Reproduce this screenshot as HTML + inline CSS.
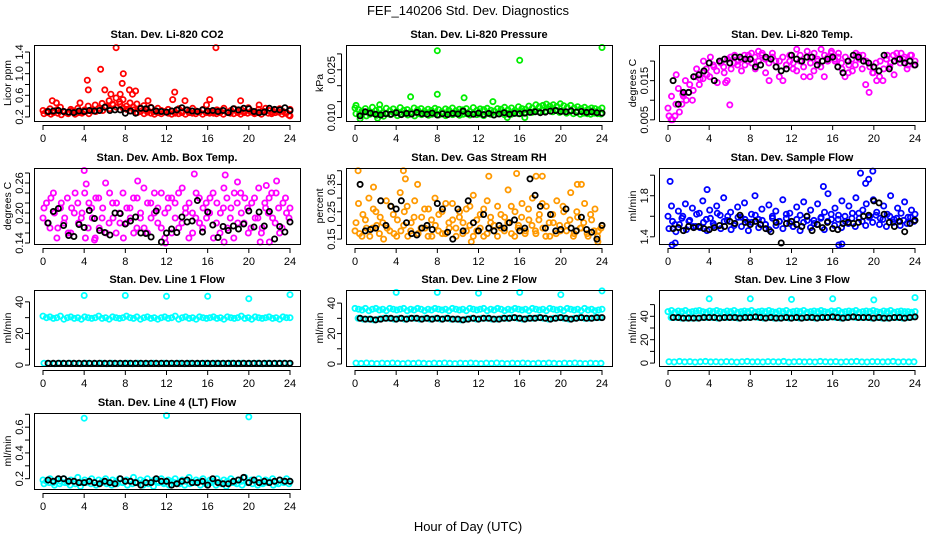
<!DOCTYPE html>
<html><head><meta charset="utf-8"><style>
html,body{margin:0;padding:0;background:#fff;}
svg{display:block;font-family:"Liberation Sans",sans-serif;}
</style></head><body>
<svg id="chart" width="936" height="540" viewBox="0 0 936 540">
<text x="468" y="15" font-size="13" text-anchor="middle">FEF_140206  Std. Dev. Diagnostics</text>
<text x="468" y="531" font-size="13" text-anchor="middle">Hour of Day (UTC)</text>
</svg>
<script>
// ---- data (colored = all samples, black = half-hour summaries) ----
const hourTicks = [0,4,8,12,16,20,24];

const co2A = [0.32,0.30,0.35,0.28,0.33,0.38,0.30,0.27,0.34,0.31,0.36,0.29,0.33,0.40,0.31,0.42,0.36,0.45,0.38,0.50,0.44,0.55,0.48,0.52,0.40,0.46,0.38,0.44,0.35,0.41,0.33,0.38,0.30,0.36,0.32,0.29,0.34,0.31,0.27,0.35,0.30,0.33,0.28,0.36,0.31,0.29,0.34,0.42,0.30,0.27,0.33,0.31,0.36,0.29,0.32,0.35,0.28,0.33,0.30,0.37,0.31,0.28,0.34,0.30,0.36,0.32,0.29,0.33,0.35,0.30,0.28,0.34];
const co2B = [0.26,0.28,0.25,0.30,0.27,0.24,0.29,0.26,0.31,0.25,0.28,0.27,0.30,0.26,0.33,0.30,0.36,0.32,0.40,0.35,0.42,0.38,0.44,0.36,0.34,0.31,0.33,0.28,0.30,0.26,0.29,0.27,0.25,0.28,0.26,0.30,0.27,0.25,0.29,0.26,0.28,0.25,0.30,0.27,0.26,0.29,0.25,0.28,0.27,0.30,0.26,0.28,0.25,0.29,0.27,0.26,0.30,0.25,0.28,0.27,0.29,0.26,0.28,0.25,0.30,0.27,0.26,0.28,0.29,0.25,0.27,0.23];
const co2OutX = [7.1,16.8,5.6,4.3,7.8,7.7,4.4,6.0,8.4,9.0,12.8,6.6,7.5,0.9,16.2,13.8,19.2,10.2,12.6,8.7,3.6,1.3,21.0,24.0];
const co2OutY = [1.48,1.48,1.08,0.88,1.00,0.82,0.70,0.70,0.70,0.68,0.66,0.62,0.62,0.50,0.52,0.50,0.50,0.50,0.52,0.62,0.46,0.46,0.42,0.22];
const co2K = [0.30,0.31,0.32,0.30,0.29,0.28,0.31,0.30,0.32,0.31,0.32,0.38,0.32,0.33,0.33,0.27,0.31,0.27,0.36,0.35,0.37,0.31,0.30,0.29,0.31,0.33,0.37,0.33,0.31,0.30,0.33,0.31,0.32,0.30,0.32,0.28,0.35,0.33,0.36,0.35,0.30,0.28,0.29,0.36,0.34,0.33,0.37,0.32];

const presA = [0.0130,0.0125,0.0120,0.0128,0.0118,0.0132,0.0122,0.0126,0.0115,0.0129,0.0121,0.0127,0.0119,0.0131,0.0123,0.0125,0.0117,0.0130,0.0124,0.0128,0.0120,0.0126,0.0122,0.0129,0.0125,0.0118,0.0127,0.0123,0.0130,0.0121,0.0126,0.0124,0.0128,0.0119,0.0131,0.0122,0.0127,0.0125,0.0129,0.0123,0.0120,0.0128,0.0126,0.0132,0.0124,0.0130,0.0122,0.0134,0.0128,0.0126,0.0136,0.0130,0.0140,0.0134,0.0138,0.0142,0.0136,0.0140,0.0135,0.0143,0.0137,0.0132,0.0138,0.0130,0.0134,0.0128,0.0132,0.0126,0.0130,0.0128,0.0124,0.0130];
const presB = [0.0112,0.0108,0.0115,0.0105,0.0110,0.0113,0.0107,0.0111,0.0104,0.0112,0.0109,0.0114,0.0106,0.0110,0.0113,0.0108,0.0111,0.0105,0.0112,0.0109,0.0113,0.0107,0.0110,0.0114,0.0108,0.0111,0.0106,0.0112,0.0109,0.0113,0.0107,0.0110,0.0112,0.0108,0.0114,0.0109,0.0111,0.0106,0.0113,0.0110,0.0108,0.0112,0.0115,0.0109,0.0113,0.0110,0.0116,0.0112,0.0118,0.0114,0.0120,0.0116,0.0122,0.0118,0.0124,0.0120,0.0126,0.0118,0.0122,0.0116,0.0120,0.0114,0.0118,0.0112,0.0116,0.0110,0.0114,0.0112,0.0110,0.0114,0.0112,0.0111];
const presOutX = [8.0,16.0,24.0,8.0,5.4,10.6,2.4,13.4,0.1,2.2,0.5,16.5,14.8];
const presOutY = [0.0310,0.0280,0.0320,0.0173,0.0165,0.0162,0.0140,0.0150,0.0138,0.0098,0.0096,0.0100,0.0100];
const presK = [0.0105,0.0118,0.0114,0.0110,0.0108,0.0112,0.0110,0.0115,0.0109,0.0113,0.0111,0.0116,0.0112,0.0110,0.0114,0.0108,0.0112,0.0109,0.0113,0.0111,0.0120,0.0112,0.0110,0.0114,0.0109,0.0113,0.0108,0.0111,0.0115,0.0110,0.0113,0.0112,0.0114,0.0116,0.0118,0.0115,0.0117,0.0120,0.0122,0.0119,0.0118,0.0121,0.0117,0.0119,0.0116,0.0118,0.0115,0.0114];

const tempA = [0.0080,0.0110,0.0060,0.0130,0.0090,0.0150,0.0120,0.0100,0.0160,0.0140,0.0170,0.0180,0.0160,0.0190,0.0175,0.0200,0.0185,0.0150,0.0210,0.0195,0.0190,0.0205,0.0215,0.0200,0.0220,0.0210,0.0225,0.0215,0.0205,0.0195,0.0220,0.0200,0.0160,0.0210,0.0190,0.0200,0.0180,0.0175,0.0215,0.0160,0.0225,0.0210,0.0220,0.0200,0.0230,0.0215,0.0210,0.0225,0.0200,0.0220,0.0180,0.0210,0.0190,0.0175,0.0220,0.0205,0.0215,0.0200,0.0185,0.0170,0.0150,0.0200,0.0180,0.0215,0.0195,0.0165,0.0205,0.0220,0.0210,0.0190,0.0215,0.0200];
const tempB = [0.0060,0.0050,0.0090,0.0070,0.0115,0.0100,0.0140,0.0125,0.0180,0.0155,0.0200,0.0165,0.0210,0.0185,0.0145,0.0195,0.0170,0.0205,0.0180,0.0215,0.0200,0.0175,0.0190,0.0215,0.0195,0.0180,0.0200,0.0220,0.0170,0.0150,0.0210,0.0185,0.0200,0.0150,0.0190,0.0215,0.0195,0.0230,0.0200,0.0185,0.0210,0.0195,0.0175,0.0205,0.0185,0.0160,0.0200,0.0220,0.0205,0.0210,0.0195,0.0160,0.0170,0.0205,0.0190,0.0215,0.0180,0.0140,0.0120,0.0170,0.0195,0.0160,0.0150,0.0205,0.0185,0.0215,0.0220,0.0195,0.0205,0.0180,0.0215,0.0190];
const tempOutX = [0.3,0.8,6.0,1.5,3.4,5.6,13.8];
const tempOutY = [0.0050,0.0165,0.0088,0.0110,0.0155,0.0145,0.0160];
const tempK = [0.0150,0.0090,0.0120,0.0120,0.0160,0.0165,0.0175,0.0195,0.0150,0.0200,0.0205,0.0195,0.0210,0.0210,0.0205,0.0205,0.0185,0.0190,0.0210,0.0205,0.0185,0.0175,0.0180,0.0215,0.0205,0.0200,0.0210,0.0210,0.0190,0.0200,0.0205,0.0210,0.0185,0.0170,0.0200,0.0215,0.0210,0.0200,0.0195,0.0185,0.0175,0.0215,0.0180,0.0200,0.0205,0.0195,0.0200,0.0190];

const ambA = [0.19,0.22,0.17,0.24,0.15,0.21,0.18,0.23,0.16,0.20,0.22,0.19,0.24,0.17,0.21,0.15,0.23,0.19,0.26,0.18,0.22,0.16,0.20,0.24,0.18,0.21,0.23,0.17,0.19,0.25,0.16,0.22,0.20,0.18,0.24,0.15,0.21,0.23,0.19,0.17,0.25,0.20,0.22,0.16,0.24,0.18,0.21,0.19,0.23,0.15,0.22,0.20,0.25,0.17,0.21,0.24,0.18,0.20,0.23,0.16,0.22,0.19,0.25,0.17,0.21,0.23,0.19,0.24,0.16,0.22,0.20,0.21];
const ambB = [0.21,0.18,0.23,0.20,0.17,0.22,0.19,0.16,0.21,0.24,0.18,0.20,0.15,0.22,0.19,0.23,0.17,0.21,0.16,0.24,0.19,0.22,0.18,0.15,0.21,0.19,0.16,0.23,0.20,0.17,0.22,0.19,0.24,0.21,0.17,0.20,0.23,0.16,0.22,0.24,0.18,0.21,0.15,0.20,0.19,0.23,0.17,0.22,0.20,0.24,0.18,0.16,0.21,0.23,0.19,0.15,0.22,0.24,0.18,0.21,0.17,0.23,0.19,0.16,0.22,0.20,0.24,0.18,0.21,0.17,0.23,0.19];
const ambOutX = [4.0,14.7,17.7,4.2,9.2,18.9,22.7,21.7,22.0,5.0,17.6,21.1,11.9];
const ambOutY = [0.285,0.278,0.276,0.258,0.264,0.262,0.264,0.255,0.142,0.146,0.142,0.142,0.140];
const ambK = [0.180,0.203,0.209,0.175,0.155,0.153,0.177,0.171,0.205,0.189,0.165,0.161,0.156,0.200,0.199,0.178,0.184,0.192,0.160,0.159,0.152,0.204,0.142,0.160,0.168,0.161,0.192,0.182,0.184,0.225,0.162,0.202,0.176,0.151,0.173,0.165,0.174,0.168,0.178,0.204,0.172,0.202,0.174,0.203,0.148,0.173,0.162,0.182];

const rhA = [0.18,0.28,0.16,0.22,0.30,0.19,0.25,0.17,0.21,0.29,0.18,0.24,0.16,0.32,0.20,0.27,0.18,0.23,0.35,0.19,0.26,0.16,0.22,0.30,0.18,0.25,0.17,0.21,0.28,0.19,0.23,0.17,0.26,0.20,0.31,0.18,0.24,0.16,0.29,0.21,0.18,0.27,0.19,0.23,0.33,0.17,0.25,0.20,0.28,0.18,0.22,0.30,0.17,0.24,0.19,0.27,0.16,0.21,0.29,0.18,0.25,0.20,0.32,0.17,0.23,0.19,0.28,0.16,0.22,0.26,0.18,0.20];
const rhB = [0.21,0.17,0.24,0.19,0.16,0.26,0.20,0.23,0.15,0.19,0.27,0.17,0.22,0.18,0.25,0.16,0.21,0.29,0.17,0.23,0.19,0.26,0.16,0.20,0.24,0.17,0.28,0.19,0.22,0.16,0.25,0.21,0.18,0.27,0.16,0.22,0.19,0.26,0.17,0.23,0.20,0.16,0.24,0.18,0.21,0.27,0.16,0.19,0.23,0.17,0.26,0.20,0.18,0.22,0.28,0.16,0.21,0.24,0.17,0.20,0.27,0.18,0.22,0.16,0.25,0.19,0.21,0.17,0.24,0.18,0.16,0.19];
const rhOutX = [0.3,4.7,15.7,4.9,13.0,17.6,18.2,22.0,1.8,11.3,23.6,21.6];
const rhOutY = [0.40,0.40,0.39,0.37,0.38,0.38,0.38,0.35,0.34,0.14,0.14,0.35];
const rhK = [0.35,0.18,0.185,0.19,0.29,0.20,0.27,0.26,0.29,0.21,0.17,0.165,0.19,0.20,0.185,0.28,0.26,0.175,0.15,0.26,0.18,0.29,0.21,0.18,0.24,0.19,0.18,0.20,0.19,0.21,0.22,0.18,0.19,0.37,0.31,0.27,0.19,0.24,0.18,0.185,0.26,0.19,0.18,0.23,0.185,0.175,0.15,0.20];

const flowA = [1.60,1.70,1.52,1.65,1.58,1.72,1.55,1.68,1.50,1.63,1.75,1.57,1.66,1.53,1.70,1.61,1.78,1.56,1.64,1.51,1.69,1.59,1.73,1.54,1.62,1.80,1.57,1.67,1.52,1.71,1.60,1.65,1.55,1.76,1.58,1.63,1.50,1.69,1.61,1.74,1.56,1.66,1.53,1.72,1.59,1.64,1.82,1.57,1.68,1.61,1.75,1.55,1.70,1.63,1.78,1.58,1.66,1.72,1.60,1.76,1.64,1.58,1.70,1.62,1.80,1.57,1.68,1.63,1.74,1.59,1.66,1.62];
const flowB = [1.48,1.55,1.45,1.52,1.60,1.47,1.56,1.50,1.62,1.49,1.54,1.46,1.58,1.51,1.63,1.48,1.55,1.60,1.47,1.53,1.59,1.50,1.57,1.46,1.54,1.61,1.49,1.56,1.52,1.47,1.58,1.51,1.55,1.48,1.62,1.53,1.50,1.57,1.46,1.54,1.60,1.49,1.56,1.52,1.58,1.47,1.55,1.62,1.51,1.57,1.49,1.60,1.53,1.58,1.50,1.63,1.55,1.51,1.59,1.54,1.61,1.52,1.57,1.50,1.60,1.54,1.58,1.51,1.56,1.53,1.59,1.55];
const flowOutX = [0.2,0.4,0.7,3.8,15.1,18.7,19.9,19.5,19.2,16.6,16.9];
const flowOutY = [1.94,1.32,1.34,1.86,1.89,2.02,2.04,1.96,1.92,1.32,1.33];
const flowK = [1.48,1.49,1.46,1.50,1.49,1.50,1.48,1.47,1.49,1.51,1.50,1.55,1.53,1.61,1.54,1.52,1.55,1.52,1.48,1.45,1.54,1.34,1.53,1.55,1.52,1.50,1.60,1.46,1.52,1.49,1.54,1.48,1.47,1.53,1.54,1.53,1.54,1.60,1.61,1.75,1.73,1.62,1.54,1.50,1.55,1.45,1.53,1.56];

const l1A = [31,30,30.5,29.5,30,31,29,30,30.5,29.5,30,29,30.5,30,29.5,30,31,29.5,30,29,30.5,30,29.5,30,31,30,29.5,30.5,29,30,30.5,29.5,30,29,30,30.5,29.5,30,31,29,30,30.5,29.5,30,29,30.5,30,29.5,30,30.5,29.5,30,29,30.5,30,29.5,30,31,29.5,30,29,30.5,30,29.5,30,30.5,29.5,30,29,30.5,30,30];
const l1B = [1.2,1.0,0.8,1.1,0.9,1.2,1.0,0.8,1.1,0.9,1.0,1.2,0.8,1.1,0.9,1.0,1.2,0.8,1.1,0.9,1.0,1.2,0.8,1.1,0.9,1.0,1.2,0.8,1.1,0.9,1.0,1.2,0.8,1.1,0.9,1.0,1.2,0.8,1.1,0.9,1.0,1.2,0.8,1.1,0.9,1.0,1.2,0.8];
const l1OutX = [4,8,12,16,20,24];
const l1OutY = [44,44,43.5,43.5,42,44.5];
const l1K = [1.2,1.1,1.2,1.1,1.2,1.1,1.2,1.1,1.2,1.1,1.2,1.1,1.2,1.1,1.2,1.1,1.2,1.1,1.2,1.1,1.2,1.1,1.2,1.1,1.2,1.1,1.2,1.1,1.2,1.1,1.2,1.1,1.2,1.1,1.2,1.1,1.2,1.1,1.2,1.1,1.2,1.1,1.2,1.1,1.2,1.1,1.2,1.2];

const l2A = [36.5,36,35.5,36.5,35,36,36.5,35.5,36,35,36.5,36,35.5,36,36.5,35,36,35.5,36.5,36,35,36,35.5,36.5,36,35.5,36,35,36.5,36,35.5,36,35,36.5,36,35.5,36,36.5,35,36,35.5,36.5,36,35,36,35.5,36.5,36,35.5,36,35,36.5,36,35.5,36,35,36.5,36,35.5,36,35,36.5,36,35.5,36,35,36.5,35.5,36,35,35.5,36];
const l2B = [0.6,0.4,0.7,0.5,0.3,0.6,0.4,0.7,0.5,0.3,0.6,0.4,0.7,0.5,0.3,0.6,0.4,0.7,0.5,0.3,0.6,0.4,0.7,0.5,0.3,0.6,0.4,0.7,0.5,0.3,0.6,0.4,0.7,0.5,0.3,0.6,0.4,0.7,0.5,0.3,0.6,0.4,0.7,0.5,0.3,0.6,0.4,0.5];
const l2OutX = [4,8,12,16,20,24];
const l2OutY = [47,47,46.5,47,45.5,48];
const l2K = [30,29.5,29.5,29,29.5,30,30,29.5,30,29.5,30,30,29.5,30,29.5,30,29.5,30,29.5,29.5,29,29.5,30,29.5,30,30,29.5,29.5,30,30,30.5,30,29.5,30,30,30.5,30,29.5,30,30.5,30,29.5,30,30.5,30,30,30.5,30.5];

const l3A = [44,45,43.5,44.5,44,45,43.5,44,44.5,45,44,43.5,44.5,44,45,44,43.5,44.5,44,45,43.5,44,44.5,44,45,43.5,44,44.5,44,45,44,43.5,44.5,44,45,43.5,44,44.5,44,45,43.5,44,44.5,44,45,44,43.5,44.5,44,45,43.5,44,44.5,44,45,43.5,44,44.5,44,45,44,43.5,44.5,44,45,43.5,44,44.5,44,44,43.5,44];
const l3B = [1.2,0.9,1.4,1.0,1.3,0.8,1.1,1.4,1.0,1.2,0.9,1.3,1.1,0.8,1.2,1.4,1.0,1.1,0.9,1.3,1.2,1.0,1.4,0.8,1.1,1.3,1.0,1.2,0.9,1.4,1.1,1.0,1.3,0.8,1.2,1.1,1.4,1.0,0.9,1.3,1.2,1.0,1.1,1.4,0.9,1.2,1.0,1.1];
const l3OutX = [4,8,12,16,20,24];
const l3OutY = [55,55,54.5,55,54,56];
const l3K = [39,39,38.5,38.5,38.5,38.5,39,39,39,38.5,39,39,39,38.5,39,39,39.5,39,38.5,39,38.5,38.5,39,38.5,39,38.5,39,39,38.5,39,39,39.5,39,38.5,39,39.5,39,39,39,38.5,39,38.5,38.5,39,39,38.5,39,39.5];

const l4A = [0.19,0.18,0.20,0.17,0.19,0.18,0.20,0.17,0.19,0.18,0.21,0.17,0.19,0.18,0.20,0.17,0.19,0.18,0.20,0.17,0.19,0.18,0.20,0.17,0.19,0.18,0.21,0.17,0.19,0.18,0.20,0.17,0.19,0.18,0.20,0.17,0.19,0.18,0.20,0.17,0.19,0.18,0.21,0.17,0.19,0.18,0.20,0.17,0.19,0.18,0.20,0.17,0.19,0.18,0.20,0.17,0.19,0.18,0.21,0.17,0.19,0.18,0.20,0.17,0.19,0.18,0.20,0.17,0.19,0.18,0.20,0.18];
const l4B = [0.16,0.17,0.15,0.16,0.17,0.15,0.16,0.14,0.17,0.16,0.15,0.17,0.16,0.15,0.16,0.17,0.15,0.16,0.17,0.15,0.16,0.14,0.17,0.16,0.15,0.17,0.16,0.15,0.16,0.17,0.15,0.16,0.17,0.15,0.16,0.14,0.17,0.16,0.15,0.17,0.16,0.15,0.16,0.17,0.15,0.16,0.17,0.16];
const l4OutX = [4,12,20];
const l4OutY = [0.67,0.69,0.68];
const l4K = [0.19,0.18,0.20,0.20,0.18,0.18,0.17,0.17,0.18,0.17,0.16,0.18,0.17,0.16,0.20,0.18,0.18,0.17,0.15,0.17,0.17,0.20,0.18,0.18,0.15,0.16,0.18,0.19,0.17,0.17,0.18,0.15,0.20,0.17,0.16,0.16,0.18,0.19,0.21,0.17,0.19,0.17,0.18,0.17,0.18,0.19,0.18,0.18];

// ---- layout ----
const NS = 'http://www.w3.org/2000/svg';
const svg = document.getElementById('chart');
const colLeft = [34, 346, 659];
const rowTop = [45, 168, 290, 413];
const boxW = 266, boxH = 76;

function mk(tag, attrs, parent) {
  const e = document.createElementNS(NS, tag);
  for (const k in attrs) e.setAttribute(k, attrs[k]);
  (parent || svg).appendChild(e);
  return e;
}

const panels = [
  {key:'co2', title:'Stan. Dev. Li-820 CO2', ylab:'Licor ppm', col:0,row:0, color:'#ff0000', ymin:0.125, ymax:1.53, ticks:[0.2,0.4,0.6,0.8,1.0,1.2,1.4], labels:['0.2','0.6','1.0','1.4'], labelVals:[0.2,0.6,1.0,1.4], A:co2A, B:co2B, oX:co2OutX, oY:co2OutY, K:co2K},
  {key:'pressure', title:'Stan. Dev. Li-820 Pressure', ylab:'kPa', col:1,row:0, color:'#00ee00', ymin:0.0089, ymax:0.0328, ticks:[0.010,0.015,0.020,0.025,0.030], labels:['0.010','0.025'], labelVals:[0.010,0.025], A:presA, B:presB, oX:presOutX, oY:presOutY, K:presK},
  {key:'temp', title:'Stan. Dev. Li-820 Temp.', ylab:'degrees C', col:2,row:0, color:'#ff00ff', ymin:0.0047, ymax:0.0241, ticks:[0.005,0.010,0.015,0.020], labels:['0.005','0.015'], labelVals:[0.005,0.015], A:tempA, B:tempB, oX:tempOutX, oY:tempOutY, K:tempK},
  {key:'ambbox', title:'Stan. Dev. Amb. Box Temp.', ylab:'degrees C', col:0,row:1, color:'#ff00ff', ymin:0.138, ymax:0.29, ticks:[0.14,0.16,0.18,0.20,0.22,0.24,0.26,0.28], labels:['0.14','0.20','0.26'], labelVals:[0.14,0.20,0.26], A:ambA, B:ambB, oX:ambOutX, oY:ambOutY, K:ambK},
  {key:'rh', title:'Stan. Dev. Gas Stream RH', ylab:'percent', col:1,row:1, color:'#ff9900', ymin:0.132, ymax:0.41, ticks:[0.15,0.20,0.25,0.30,0.35,0.40], labels:['0.15','0.25','0.35'], labelVals:[0.15,0.25,0.35], A:rhA, B:rhB, oX:rhOutX, oY:rhOutY, K:rhK},
  {key:'sampleflow', title:'Stan. Dev. Sample Flow', ylab:'ml/min', col:2,row:1, color:'#0000ff', ymin:1.33, ymax:2.07, ticks:[1.4,1.6,1.8,2.0], labels:['1.4','1.8'], labelVals:[1.4,1.8], A:flowA, B:flowB, oX:flowOutX, oY:flowOutY, K:flowK},
  {key:'line1', title:'Stan. Dev. Line 1 Flow', ylab:'ml/min', col:0,row:2, color:'#00ffff', ymin:-0.6, ymax:47.5, ticks:[0,10,20,30,40], labels:['0','20','40'], labelVals:[0,20,40], A:l1A, B:l1B, oX:l1OutX, oY:l1OutY, K:l1K},
  {key:'line2', title:'Stan. Dev. Line 2 Flow', ylab:'ml/min', col:1,row:2, color:'#00ffff', ymin:-1.3, ymax:48.6, ticks:[0,10,20,30,40], labels:['0','20','40'], labelVals:[0,20,40], A:l2A, B:l2B, B2:l2K, oX:l2OutX, oY:l2OutY, K:l2K},
  {key:'line3', title:'Stan. Dev. Line 3 Flow', ylab:'ml/min', col:2,row:2, color:'#00ffff', ymin:-2.5, ymax:62.5, ticks:[0,10,20,30,40,50], labels:['0','20','40'], labelVals:[0,20,40], A:l3A, B:l3B, B2:l3K, oX:l3OutX, oY:l3OutY, K:l3K},
  {key:'line4', title:'Stan. Dev. Line 4 (LT) Flow', ylab:'ml/min', col:0,row:3, color:'#00ffff', ymin:0.12, ymax:0.71, ticks:[0.2,0.3,0.4,0.5,0.6,0.7], labels:['0.2','0.4','0.6'], labelVals:[0.2,0.4,0.6], A:l4A, B:l4B, oX:l4OutX, oY:l4OutY, K:l4K}
];

function dot(g, x, y, color, name) {
  const c = mk('circle', {cx:x.toFixed(1), cy:y.toFixed(1), r:2.6, fill:'none', stroke:color, 'stroke-width':1.8}, g);
  
  
}

panels.forEach(p => {
  const L = colLeft[p.col], T = rowTop[p.row];
  const sx = h => L + 9 + h * (247 / 24);
  const sy = v => T + (p.ymax - v) / (p.ymax - p.ymin) * boxH;
  const g = mk('g', {});
  
  

  const t = mk('text', {x: L + boxW/2, y: T - 7, 'font-size': 11, 'font-weight': 'bold', 'text-anchor':'middle'}, g);
  t.textContent = p.title;
  
  

  const yl = mk('text', {x: 0, y: 0, 'font-size': 10.5, 'text-anchor':'middle', transform:`translate(${L-23},${T+boxH/2}) rotate(-90)`}, g);
  yl.textContent = p.ylab;
  
  

  const xa = mk('g', {stroke:'#000', 'stroke-width':1}, g);
  
  
  mk('line', {x1: sx(0), x2: sx(24), y1: T+boxH+0.5+4, y2: T+boxH+0.5+4}, xa);
  hourTicks.forEach(h => {
    mk('line', {x1: sx(h), x2: sx(h), y1: T+boxH+4, y2: T+boxH+9}, xa);
    const tl = mk('text', {x: sx(h), y: T+boxH+21, 'font-size': 11, 'text-anchor':'middle', stroke:'none'}, g);
    tl.textContent = h;
    
    
  });
  const ya = mk('g', {stroke:'#000', 'stroke-width':1}, g);
  
  
  mk('line', {x1: L-4.5, x2: L-4.5, y1: sy(p.ticks[0]), y2: sy(p.ticks[p.ticks.length-1])}, ya);
  p.ticks.forEach(v => mk('line', {x1: L-9, x2: L-4.5, y1: sy(v), y2: sy(v)}, ya));
  p.labels.forEach((lab, i) => {
    const yy = sy(p.labelVals[i]);
    const tl = mk('text', {x:0, y:0, 'font-size': 11, 'text-anchor':'middle', transform:`translate(${L-11},${yy}) rotate(-90)`}, g);
    tl.textContent = lab;
    
    
  });

  const pts = mk('g', {}, g);
  
  
  const plotArr = (arr, color, name, start, end) => arr.forEach((v, i) => {
    const h = start + i * (end - start) / (arr.length - 1);
    dot(pts, sx(h), sy(v), color, name);
  });
  plotArr(p.A, p.color, p.key + '-sample-point', 0, 24);
  plotArr(p.B, p.color, p.key + '-sample-point', 0.1, 23.9);
  if (p.B2) plotArr(p.B2, p.color, p.key + '-sample-point', 0.3, 23.8);
  p.oX.forEach((h, i) => dot(pts, sx(h), sy(p.oY[i]), p.color, p.key + '-outlier-point'));
  plotArr(p.K, '#000', p.key + '-halfhour-point', 0.5, 24);

  const box = mk('rect', {x: L+0.5, y: T+0.5, width: boxW, height: boxH, fill:'none', stroke:'#000', 'stroke-width':1}, g);
  
  
});
</script>
</body></html>
